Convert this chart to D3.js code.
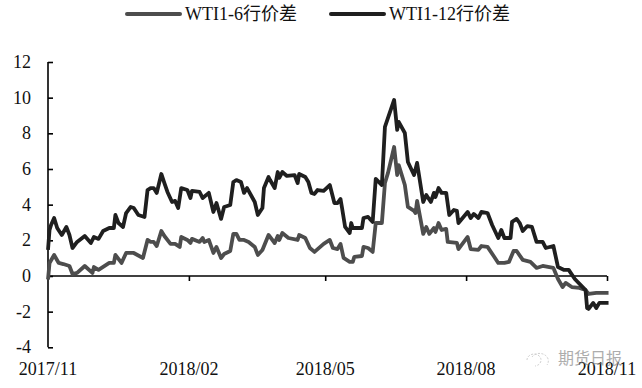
<!DOCTYPE html>
<html>
<head>
<meta charset="utf-8">
<script src="https://cdnjs.cloudflare.com/ajax/libs/d3/7.8.5/d3.min.js"></script>
<style>
html,body{margin:0;padding:0;background:#fff;}
text{font-family:"Liberation Serif","Noto Sans CJK SC",serif;fill:#111;}
</style>
</head>
<body>
<div id="chart"></div>
<script>
// values; days are counted from 2017/11/01
var startDate=new Date(Date.UTC(2017,10,1));
var seriesNames=["WTI1-6行价差","WTI1-12行价差"];
var colorlst=["#4d4d4d","#1f1f1f"];
var yTicks=[-4,-2,0,2,4,6,8,10,12];
var xTickLabels=["2017/11","2018/02","2018/05","2018/08","2018/11"];
var xTickDates=[[2017,10],[2018,1],[2018,4],[2018,7],[2018,10]];

var days6=[0,1,4,7,10,14,16,19,24,29,30,33,40,43,44,48,51,56,62,65,67,69,71,74,76,80,83,86,87,91,93,94,99,101,102,105,108,110,113,115,119,121,123,125,128,131,135,137,140,144,148,150,151,153,157,163,164,168,171,174,180,184,186,189,191,193,197,199,200,205,206,209,212,214,218,220,222,226,228,229,233,235,239,240,241,245,247,249,252,253,255,257,260,261,267,268,274,276,281,283,287,291,294,298,301,304,306,310,315,319,323,330,333,336,338,342,347,351,353,358,366];
var vals6=[-0.2,0.73,1.18,0.73,0.67,0.56,0.11,0.17,0.56,0.17,0.5,0.34,0.73,0.73,1.18,0.73,1.29,1.29,1.01,2.02,1.91,1.91,1.68,2.52,2.24,1.8,1.8,1.63,2.19,2.02,1.85,2.08,1.91,2.13,1.91,2.02,1.29,1.63,1.01,1.23,1.4,2.36,2.36,2.02,2.02,1.91,1.63,1.18,1.46,2.3,1.85,2.24,2.02,2.41,2.13,2.02,2.3,2.13,1.57,1.35,1.8,2.02,1.57,1.51,1.8,1.01,0.79,0.79,1.07,1.12,1.63,1.57,1.35,2.97,2.97,5.21,5.78,7.23,5.66,6.22,5.1,3.87,3.65,3.53,4.21,2.36,2.75,2.36,2.69,2.47,2.97,2.58,2.64,1.91,1.85,1.51,2.19,1.51,1.46,1.68,1.63,1.12,0.73,0.73,0.79,1.4,1.4,0.9,0.79,0.45,0.56,0.45,-0.17,-0.62,-0.39,-0.62,-0.67,-0.79,-1.01,-0.95,-0.95];

var days12=[0,1,2,4,6,9,12,14,16,19,24,28,30,33,36,40,43,44,46,49,51,54,56,59,63,65,67,69,71,74,76,78,81,83,85,87,91,93,94,99,101,105,108,110,113,115,119,121,123,126,128,130,135,137,140,141,144,145,148,150,151,153,156,161,163,164,168,170,172,174,176,180,184,187,189,191,192,194,197,198,199,202,205,206,209,212,214,218,220,226,228,229,233,235,239,241,245,247,250,252,253,255,257,260,262,265,267,268,274,276,278,281,283,287,290,294,296,298,302,303,306,308,310,313,316,319,323,325,330,333,337,340,344,351,352,353,356,358,360,366];
var vals12=[1.46,2.58,2.86,3.25,2.69,2.3,2.75,2.3,1.57,1.91,2.24,1.85,2.19,2.08,2.52,2.69,2.69,3.42,2.97,2.75,3.53,3.87,3.81,3.42,3.31,4.82,4.93,4.93,4.66,5.72,5.21,4.71,4.15,4.21,3.81,4.93,4.82,4.37,4.77,4.71,4.37,4.66,3.59,4.09,3.2,3.87,3.98,5.27,5.38,5.27,4.66,4.93,4.15,3.42,3.81,4.93,5.55,5.38,4.93,5.83,5.5,5.83,5.61,5.66,5.21,5.72,5.55,5.27,4.66,4.6,4.82,4.77,5.1,4.09,4.09,4.32,3.81,2.75,2.41,2.97,2.69,2.69,2.69,3.25,3.31,3.03,5.44,5.1,8.36,9.87,8.19,8.64,8.02,6.39,5.66,6.34,4.15,4.54,4.15,4.66,4.43,4.93,4.66,4.66,3.42,3.7,3.65,2.97,3.59,3.25,3.48,3.25,3.59,3.53,2.86,2.13,2.58,2.13,2.13,3.03,3.2,2.97,2.52,2.8,2.75,1.91,1.91,1.57,1.68,0.5,0.34,0.34,-0.17,-0.79,-1.8,-1.85,-1.51,-1.8,-1.51,-1.51];

var ww=642,hh=388,fontSize=18;
var x=d3.scaleUtc()
    .domain([startDate,new Date(Date.UTC(2018,10,1))])
    .range([48,607]);
var y=d3.scaleLinear().domain([-4,12]).range([347.3,62]);

var svg=d3.select("#chart").append("svg")
    .attr("width",ww).attr("height",hh)
    .style("display","block");

function toPoints(days,vals){
  return days.map(function(d,i){return [d3.utcDay.offset(startDate,d),vals[i]];});
}
var line=d3.line()
    .x(function(d){return x(d[0]);})
    .y(function(d){return y(d[1]);});

// axes
var yAxis=d3.axisRight(y).tickValues(yTicks).tickSize(5).tickFormat("");
var gy=svg.append("g").attr("transform","translate(48,0)").call(yAxis);
gy.selectAll("path,line").attr("stroke","#000").attr("stroke-width",1.6);
gy.select("path").attr("d","M0,"+y(12)+"V"+y(-4));
gy.selectAll("text.lbl")
    .data(yTicks).enter().append("text")
    .attr("class","lbl")
    .attr("x",-17)
    .attr("y",function(d){return y(d)+6;})
    .attr("text-anchor","end")
    .attr("font-size",fontSize)
    .text(function(d){return d;});

var tickDates=xTickDates.map(function(d){return new Date(Date.UTC(d[0],d[1],1));});
var xAxis=d3.axisBottom(x).tickValues(tickDates.slice(1)).tickSize(5).tickFormat("");
var gx=svg.append("g").attr("transform","translate(0,"+y(0)+")").call(xAxis);
gx.selectAll("path,line").attr("stroke","#000").attr("stroke-width",1.6);
gx.select("path").attr("d","M48,0H607");

svg.selectAll("text.xlbl")
    .data(xTickLabels).enter().append("text")
    .attr("class","xlbl")
    .attr("x",function(d,i){return x(tickDates[i]);})
    .attr("y",375)
    .attr("text-anchor","middle")
    .attr("font-size",fontSize)
    .text(function(d){return d;});

// series
svg.append("path").datum(toPoints(days6,vals6))
    .attr("d",line).attr("fill","none")
    .attr("stroke",colorlst[0]).attr("stroke-width",3.8).attr("stroke-linejoin","round");
svg.append("path").datum(toPoints(days12,vals12))
    .attr("d",line).attr("fill","none")
    .attr("stroke",colorlst[1]).attr("stroke-width",3.8).attr("stroke-linejoin","round");

// legend
var legendX=[127,331];
var lg=svg.selectAll("g.leg").data(seriesNames).enter().append("g")
    .attr("class","leg")
    .attr("transform",function(d,i){return "translate("+legendX[i]+",14)";});
lg.append("line")
    .attr("x1",0).attr("x2",53)
    .attr("stroke",function(d,i){return colorlst[i];})
    .attr("stroke-width",4).attr("stroke-linecap","round");
lg.append("text")
    .attr("x",58).attr("y",6)
    .attr("font-size",fontSize)
    .text(function(d){return d;});

// watermark
var wm=svg.append("g").attr("opacity",0.6);
wm.append("path")
    .attr("d","M527,360a7,6 0 1 1 8,6M532,357a7,6 0 1 1 15,8")
    .attr("fill","none").attr("stroke","#999").attr("stroke-width",0.8).attr("stroke-dasharray","2,1.5");
wm.append("text")
    .attr("x",558).attr("y",364)
    .attr("font-size",16)
    .style("font-family","'Noto Sans CJK SC'")
    .style("fill","#777")
    .text("期货日报");
</script>
</body>
</html>
